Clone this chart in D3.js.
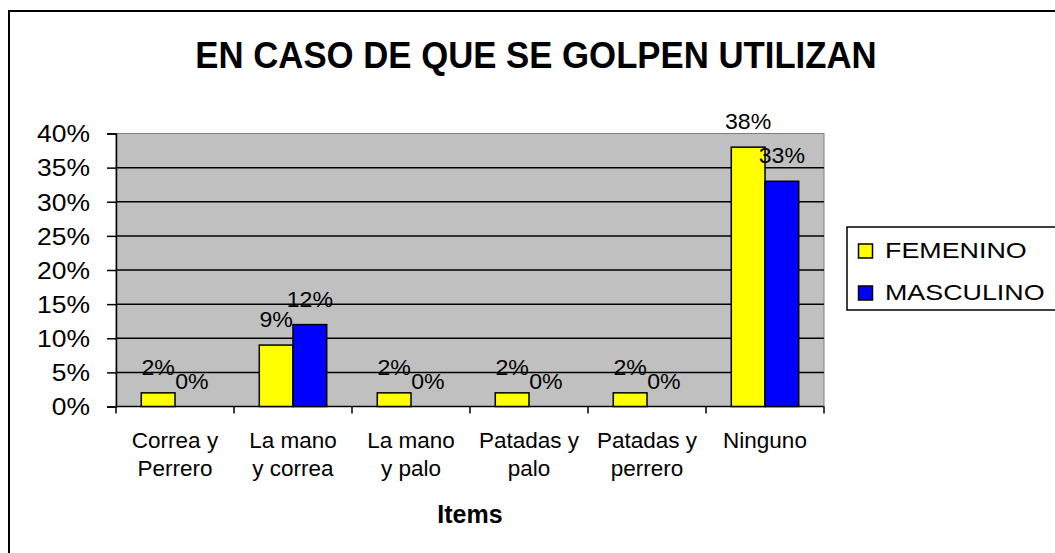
<!DOCTYPE html>
<html>
<head>
<meta charset="utf-8">
<script src="https://cdn.jsdelivr.net/npm/d3@7"></script>
<style>
  body { margin: 0; background: #fff; }
  text { font-family: "Liberation Sans", Arial, sans-serif; fill: #000; }
</style>
</head>
<body>
<div id="chart"></div>
<script>
// data
const categories = [
  ["Correa y", "Perrero"],
  ["La mano", "y correa"],
  ["La mano", "y palo"],
  ["Patadas y", "palo"],
  ["Patadas y", "perrero"],
  ["Ninguno"]
];
const seriesNames = ["FEMENINO", "MASCULINO"];
const femenino = [2, 9, 2, 2, 2, 38];
const masculino = [0, 12, 0, 0, 0, 33];
const yTicks = [0, 5, 10, 15, 20, 25, 30, 35, 40];

const colors = { FEMENINO: "#ffff00", MASCULINO: "#0000ff" };

const width = 1055;
const height = 553;

const svg = d3.select("#chart")
  .append("svg")
  .attr("width", width)
  .attr("height", height);

// stretch text horizontally to look like the reference rendering
function stretch(sel, k) {
  sel.each(function () {
    const len = this.getComputedTextLength();
    d3.select(this)
      .attr("textLength", len * k)
      .attr("lengthAdjust", "spacingAndGlyphs");
  });
}

// outer chart frame (only left/top visible)
svg.append("rect")
  .attr("x", 9).attr("y", 11)
  .attr("width", 1200).attr("height", 700)
  .attr("fill", "none")
  .attr("stroke", "#000")
  .attr("stroke-width", 2);

// title
svg.append("text")
  .attr("x", 536).attr("y", 68)
  .attr("text-anchor", "middle")
  .style("font-size", "36px")
  .style("font-weight", "bold")
  .text("EN CASO DE QUE SE GOLPEN UTILIZAN")
  .call(stretch, 0.965);

const plot = { left: 116, right: 824, top: 133.5, bottom: 406.5 };

const x = d3.scaleBand()
  .domain(d3.range(categories.length))
  .range([plot.left, plot.right]);

const x1 = d3.scaleBand()
  .domain(seriesNames)
  .range([0, x.bandwidth()])
  .paddingInner(0)
  .paddingOuter(0.75);

const y = d3.scaleLinear()
  .domain([0, 40])
  .range([plot.bottom, plot.top]);

// plot background
svg.append("rect")
  .attr("x", plot.left).attr("y", plot.top)
  .attr("width", plot.right - plot.left)
  .attr("height", plot.bottom - plot.top)
  .attr("fill", "#c0c0c0")
  .attr("stroke", "#808080")
  .attr("stroke-width", 1);

// gridlines
svg.append("g")
  .selectAll("line")
  .data(yTicks.filter(t => t > 0 && t < 40))
  .join("line")
  .attr("x1", plot.left).attr("x2", plot.right)
  .attr("y1", d => y(d))
  .attr("y2", d => y(d))
  .attr("stroke", "#000")
  .attr("stroke-width", 1.5);

// y axis
const yAxis = svg.append("g")
  .attr("transform", `translate(${plot.left},0)`)
  .call(d3.axisLeft(y).tickValues(yTicks).tickSize(9).tickFormat(d => d + "%"));
yAxis.select(".domain").attr("stroke", "#000").attr("stroke-width", 1.5);
yAxis.selectAll(".tick line").attr("stroke", "#000").attr("stroke-width", 1.5);
yAxis.selectAll(".tick text")
  .attr("x", -26)
  .attr("dy", "0.36em")
  .style("font-size", "23px")
  .style("font-family", "'Liberation Sans', Arial, sans-serif")
  .attr("fill", "#000")
  .call(stretch, 1.15);

// x axis
const xAxis = svg.append("g")
  .attr("transform", `translate(0,${plot.bottom})`);
xAxis.append("line")
  .attr("x1", plot.left).attr("x2", plot.right)
  .attr("y1", 0).attr("y2", 0)
  .attr("stroke", "#000").attr("stroke-width", 1.5);
xAxis.selectAll("line.tick")
  .data(d3.range(categories.length + 1))
  .join("line")
  .attr("class", "tick")
  .attr("x1", d => plot.left + d * x.bandwidth())
  .attr("x2", d => plot.left + d * x.bandwidth())
  .attr("y1", 0).attr("y2", 7)
  .attr("stroke", "#000").attr("stroke-width", 1.5);

// category labels
categories.forEach((lines, i) => {
  const t = svg.append("text")
    .attr("text-anchor", "middle")
    .style("font-size", "22.5px");
  lines.forEach((ln, j) => {
    t.append("tspan")
      .attr("x", x(i) + x.bandwidth() / 2)
      .attr("y", 448 + j * 28)
      .text(ln);
  });
});

// bars
const groups = svg.append("g")
  .selectAll("g")
  .data(categories.map((c, i) => i))
  .join("g")
  .attr("transform", i => `translate(${x(i)},0)`);

const values = { FEMENINO: femenino, MASCULINO: masculino };

groups.selectAll("rect")
  .data(i => seriesNames.map(s => ({ s, v: values[s][i] })))
  .join("rect")
  .attr("x", d => x1(d.s))
  .attr("width", x1.bandwidth())
  .attr("y", d => y(d.v))
  .attr("height", d => y(0) - y(d.v))
  .attr("fill", d => colors[d.s])
  .attr("stroke", d => d.v > 0 ? "#000" : "none")
  .attr("stroke-width", 1.5);

// data labels
groups.selectAll("text")
  .data(i => seriesNames.map(s => ({ s, v: values[s][i] })))
  .join("text")
  .attr("x", d => x1(d.s) + x1.bandwidth() / 2)
  .attr("y", d => y(d.v) - 18)
  .attr("text-anchor", "middle")
  .style("font-size", "22px")
  .text(d => d.v + "%")
  .call(stretch, 1.05);

// axis title
svg.append("text")
  .attr("x", (plot.left + plot.right) / 2)
  .attr("y", 523)
  .attr("text-anchor", "middle")
  .style("font-size", "25px")
  .style("font-weight", "bold")
  .text("Items");

// legend
const legend = svg.append("g");
legend.append("rect")
  .attr("x", 847).attr("y", 227)
  .attr("width", 240).attr("height", 83)
  .attr("fill", "#fff")
  .attr("stroke", "#000")
  .attr("stroke-width", 1.5);

seriesNames.forEach((s, i) => {
  const yy = 258 + i * 42;
  legend.append("rect")
    .attr("x", 858.5).attr("y", yy - 14)
    .attr("width", 14).attr("height", 14)
    .attr("fill", colors[s])
    .attr("stroke", "#000")
    .attr("stroke-width", 1.5);
  legend.append("text")
    .attr("x", 885).attr("y", yy)
    .style("font-size", "22px")
    .text(s)
    .call(stretch, 1.22);
});
</script>
</body>
</html>
